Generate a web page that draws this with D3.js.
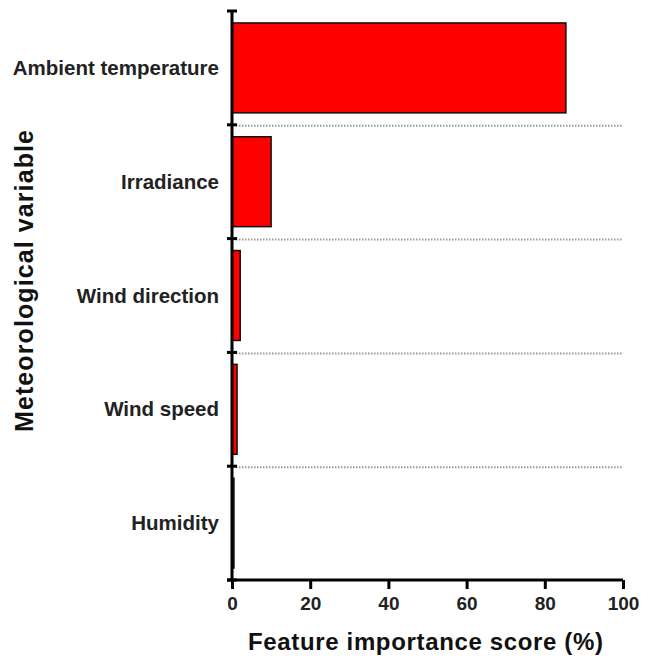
<!DOCTYPE html>
<html>
<head>
<meta charset="utf-8">
<script src="https://cdn.jsdelivr.net/npm/d3@7"></script>
<style>
  body { margin: 0; background: #fff; }
  .lbl { font-family: "Liberation Sans", Arial, sans-serif; font-weight: bold; fill: #222; }
  .ttl { font-family: "Liberation Sans", Arial, sans-serif; font-weight: bold; fill: #111; }
</style>
</head>
<body>
<div id="chart"></div>
<script>
// Data
const categories = ['Ambient temperature', 'Irradiance', 'Wind direction', 'Wind speed', 'Humidity']
const scores = [85.4, 10.0, 2.1, 1.3, 0.5]
const xTicks = [0, 20, 40, 60, 80, 100]

// Layout
const width = 652
const height = 661
const plotLeft = 232
const plotRight = 623
const plotTop = 11
const plotBottom = 580

const svg = d3.select('#chart')
  .append('svg')
    .attr('width', width)
    .attr('height', height)

const x = d3.scaleLinear().domain([0, 100]).range([plotLeft, plotRight])
const y = d3.scaleBand()
  .domain(categories)
  .range([plotTop, plotBottom])
  .paddingInner(0.21)
  .paddingOuter(0.105)

const step = y.step()
const boundaries = d3.range(categories.length + 1).map(i => plotTop + i * step)

// Dotted separators
svg.selectAll('.sep')
  .data(boundaries.slice(1, -1))
  .enter()
  .append('line')
    .attr('x1', plotLeft + 4)
    .attr('x2', plotRight)
    .attr('y1', d => d + 1)
    .attr('y2', d => d + 1)
    .attr('stroke', '#9a9a9a')
    .attr('stroke-width', 2)
    .attr('stroke-dasharray', '1.5,1.5')

// Bars
svg.selectAll('.bar')
  .data(categories)
  .enter()
  .append('rect')
    .attr('x', x(0))
    .attr('y', d => y(d))
    .attr('width', (d, i) => x(scores[i]) - x(0))
    .attr('height', y.bandwidth())
    .attr('fill', '#ff0000')
    .attr('stroke', '#111')
    .attr('stroke-width', 1.5)

// Y axis line + ticks
svg.append('line')
  .attr('x1', plotLeft).attr('x2', plotLeft)
  .attr('y1', plotTop).attr('y2', plotBottom)
  .attr('stroke', '#000').attr('stroke-width', 3)

svg.selectAll('.ytick')
  .data(boundaries)
  .enter()
  .append('line')
    .attr('x1', plotLeft - 5).attr('x2', plotLeft + 5)
    .attr('y1', d => d).attr('y2', d => d)
    .attr('stroke', '#000').attr('stroke-width', 3)

// X axis
const xAxis = svg.append('g')
  .attr('transform', 'translate(0,' + plotBottom + ')')
  .call(d3.axisBottom(x).tickValues(xTicks).tickSize(9).tickPadding(8).tickFormat(d3.format('d')))

xAxis.select('.domain')
  .attr('stroke', '#000').attr('stroke-width', 3)
  .attr('d', 'M' + (plotLeft - 5) + ',0H' + plotRight)
xAxis.selectAll('.tick line').attr('stroke', '#000').attr('stroke-width', 3)
xAxis.selectAll('.tick text')
  .attr('class', 'lbl')
  .attr('font-size', 19)

// Category labels
svg.selectAll('.cat')
  .data(categories)
  .enter()
  .append('text')
    .attr('class', 'lbl')
    .attr('x', plotLeft - 13)
    .attr('y', d => y(d) + y.bandwidth() / 2)
    .attr('dy', '0.35em')
    .attr('text-anchor', 'end')
    .attr('font-size', 20.5)
    .text(d => d)

// Axis titles
svg.append('text')
  .attr('class', 'ttl')
  .attr('x', 248)
  .attr('y', 650)
  .attr('font-size', 24)
  .attr('textLength', 355)
  .attr('lengthAdjust', 'spacing')
  .text('Feature importance score (%)')

svg.append('text')
  .attr('class', 'ttl')
  .attr('transform', 'translate(33,432) rotate(-90)')
  .attr('font-size', 25)
  .attr('textLength', 302)
  .attr('lengthAdjust', 'spacing')
  .text('Meteorological variable')
</script>
</body>
</html>
